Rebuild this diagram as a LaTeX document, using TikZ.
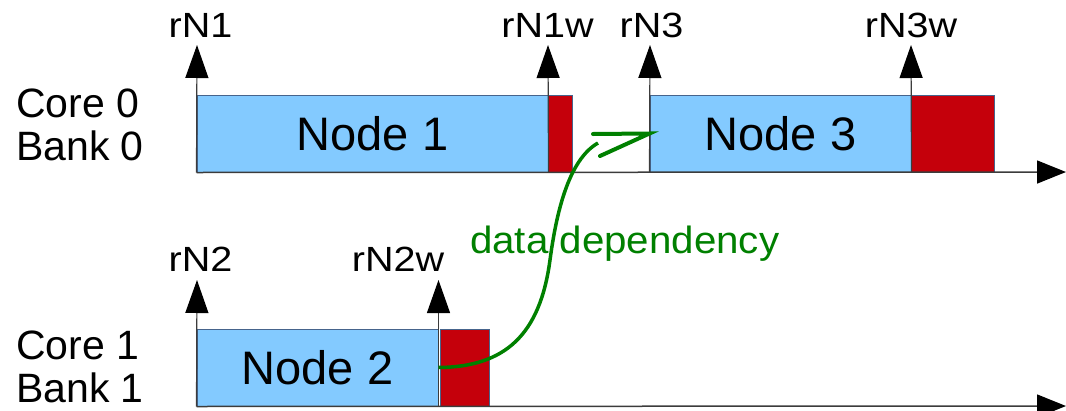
\documentclass[tikz,border=0pt]{standalone}
\usepackage{fontspec}
\setmainfont{Liberation Sans}
\newfontfamily\lblfont[FakeStretch=1.13]{Liberation Sans}
\newfontfamily\ddfont[FakeStretch=1.06]{Liberation Sans}
\usetikzlibrary{arrows.meta}
\definecolor{boxblue}{RGB}{131,202,255}
\definecolor{boxred}{RGB}{197,0,11}
\definecolor{boxedge}{RGB}{70,100,140}
\definecolor{axisgray}{RGB}{60,60,60}
\definecolor{depgreen}{RGB}{0,128,0}
\begin{document}
\begin{tikzpicture}[x=1pt,y=-1pt,
  task/.style={draw=boxedge, line width=1pt, fill=boxblue, inner sep=0pt,
    minimum height=77pt, font=\fontsize{47}{56}\selectfont},
  wb/.style={draw=boxedge, line width=1pt, fill=boxred, inner sep=0pt, minimum height=77pt},
  lbl/.style={inner sep=0pt, anchor=base, font=\lblfont\fontsize{35}{40}\selectfont},
  side/.style={inner sep=0pt, anchor=base west, align=left, font=\fontsize{41}{43}\selectfont},
  uparrow/.style={draw=axisgray, line width=1.2pt, -{Triangle[length=33pt,width=23pt,color=black]}},
  axisline/.style={draw=axisgray, line width=1.5pt, -{Triangle[length=29pt,width=23pt,color=black]}},
  dep/.style={draw=depgreen, line width=3.5pt},
  depbarb/.style={draw=depgreen, line width=4pt, line cap=round, line join=miter},
  ddlbl/.style={inner sep=0pt, anchor=base west, text=depgreen, font=\ddfont\fontsize{38}{42}\selectfont}]
\useasboundingbox (0,0) rectangle (1066,410);
% side labels (base anchor = baseline of last line)
\node[side] (c0) at (16,160) {Core 0\\Bank 0};
\node[side] (c1) at (16,402) {Core 1\\Bank 1};
% boxes
\node[task, minimum width=351pt] (n1) at (372.5,133.5) {Node 1};
\node[wb, minimum width=24pt] (r1) at (560,133.5) {};
\node[task, minimum width=261pt] (n3) at (780.5,133.5) {Node 3};
\node[wb, minimum width=83pt] (r3) at (952.5,133.5) {};
\node[task, minimum width=241pt] (n2) at (317.5,367.5) {Node 2};
\node[wb, minimum width=49pt] (r2) at (464.5,367.5) {};
% axes
\coordinate (a0) at (1066,172);
\coordinate (a1) at (1066,406);
\draw[axisline] (n1.south west) -- (a0);
\draw[axisline] (n2.south west) -- (a1);
% event arrows
\coordinate (t1) at (197,45);
\coordinate (t1w) at (548,45);
\coordinate (t3) at (650,45);
\coordinate (t3w) at (911,45);
\coordinate (t2) at (197,280);
\coordinate (t2w) at (438.5,280);
\draw[uparrow] (n1.south west) -- (t1);
\draw[uparrow] (n1.south east) -- (t1w);
\draw[uparrow] (n3.south west) -- (t3);
\draw[uparrow] (n3.south east) -- (t3w);
\draw[uparrow] (n2.south west) -- (t2);
\draw[uparrow] (n2.south east) -- (t2w);
% event labels
\node[lbl] (l1) at (200.5,37) {rN1};
\node[lbl] (l1w) at (547.5,37) {rN1w};
\node[lbl] (l3) at (651.5,37) {rN3};
\node[lbl] (l3w) at (911,37) {rN3w};
\node[lbl] (l2) at (200.5,271) {rN2};
\node[lbl] (l2w) at (398,271) {rN2w};
% data dependency
\node[ddlbl] (dd) at (470,253) {data dependency};
\coordinate (ce) at (598,143);
\coordinate (b1) at (593,134);
\coordinate (b2) at (600,156);
\draw[dep] (n2.east) .. controls (505,367) and (540,335) .. (550,260)
  .. controls (556,215) and (568,160) .. (ce);
\draw[depbarb] (b1) -- (n3.west) -- (b2);
\end{tikzpicture}
\end{document}
